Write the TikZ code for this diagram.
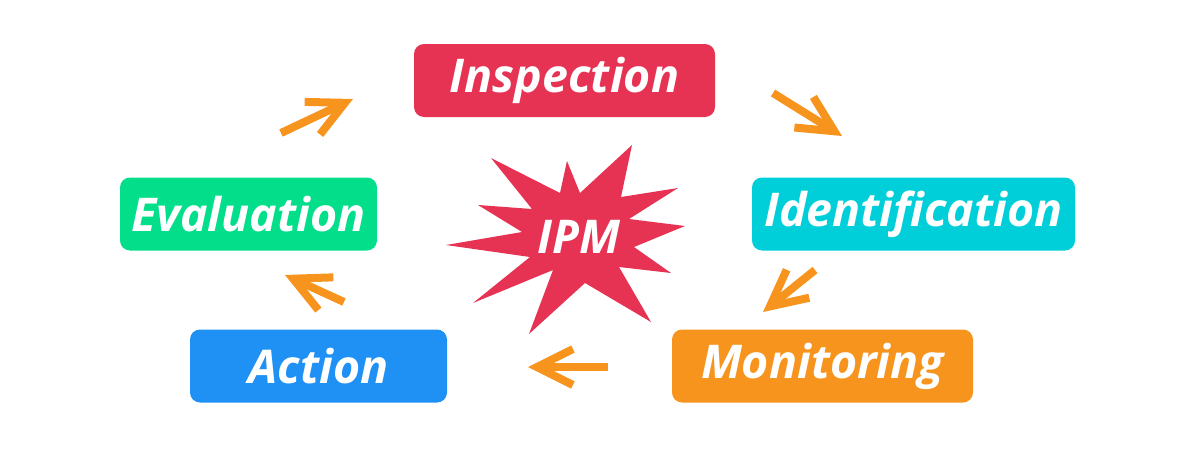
\documentclass[tikz,border=0pt]{standalone}
\usepackage{fontspec}
\setmainfont{Open Sans}
\usetikzlibrary{arrows.meta}
\definecolor{ipmred}{HTML}{E63354}
\definecolor{ipmcyan}{HTML}{00CFDA}
\definecolor{ipmorange}{HTML}{F7941E}
\definecolor{ipmgreen}{HTML}{02DE89}
\definecolor{ipmblue}{HTML}{1F91F4}

\begin{document}
\begin{tikzpicture}[x=1pt, y=-1pt,
        stage/.style={rounded corners=10pt, text=white, inner sep=0pt,
            font=\fontsize{46.5}{50}\selectfont\bfseries\itshape,
            minimum height=73pt, text height=32pt, text depth=8pt},
        low/.style={text height=37pt, text depth=3pt},
        cycle/.style={draw=ipmorange, line width=8pt,
            -{Straight Barb[length=36pt, width=36pt]}}]
            \useasboundingbox (0, 0) rectangle (1200, 450);

            \node[stage, fill=ipmred,    minimum width=301pt] (insp)  at (564.5, 80.5) {Inspection};
            \node[stage, fill=ipmcyan,   minimum width=323pt] (ident) at (913.5, 214)  {Identification};
            \node[stage, fill=ipmorange, minimum width=301pt] (moni)  at (822.5, 366)  {Monitoring};
            \node[stage, low, fill=ipmblue,  minimum width=257pt] (act)  at (318.5, 366) {Action};
            \node[stage, low, fill=ipmgreen, minimum width=257pt] (eval) at (248.5, 214) {Evaluation};

            % burst in the middle
            \fill[ipmred] (567, 161) -- (580, 193) -- (632, 145) -- (621, 197)
                -- (678, 188) -- (629, 219) -- (685, 226) -- (634, 247)
                -- (671, 273) -- (619, 267) -- (651, 322) -- (585, 283)
                -- (529, 334) -- (553, 270) -- (473, 303) -- (530, 257)
                -- (446, 245) -- (522, 232) -- (478, 205) -- (532, 209)
                -- (491, 158) -- (560, 193) -- cycle;
            \node[stage, minimum height=0pt] (ipm) at (579, 241) {IPM};

            \coordinate (evalout)  at (281, 133);
            \coordinate (inspin)   at (353, 99);
            \coordinate (inspout)  at (773, 93);
            \coordinate (identin)  at (842, 136);
            \coordinate (identout) at (815, 270);
            \coordinate (monin)    at (763, 312);
            \coordinate (monout)   at (608, 367);
            \coordinate (actin)    at (528, 367);
            \coordinate (actout)   at (344, 302);
            \coordinate (evalin)   at (285, 275);

            \draw[cycle] (evalout)  -- (inspin);
            \draw[cycle] (inspout)  -- (identin);
            \draw[cycle] (identout) -- (monin);
            \draw[cycle] (monout)   -- (actin);
            \draw[cycle] (actout)   -- (evalin);
        \end{tikzpicture}
\end{document}
